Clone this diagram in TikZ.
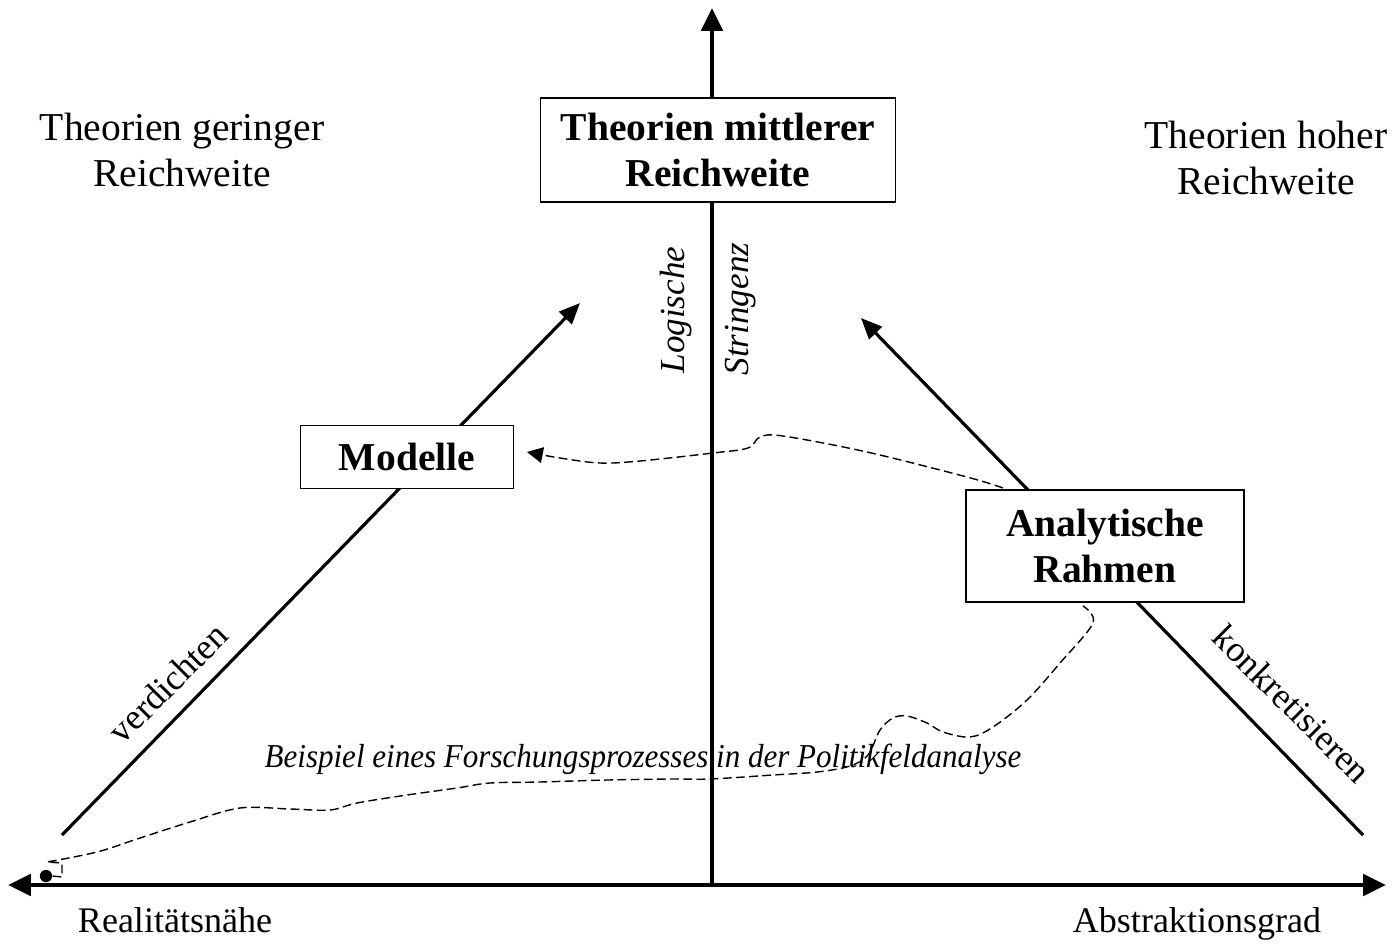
\documentclass[tikz,border=0pt]{standalone}
\usepackage{fontspec}
\setmainfont{Liberation Serif}
\usetikzlibrary{arrows.meta}
\begin{document}
\begin{tikzpicture}[x=0.02cm,y=-0.02cm,>={Triangle[length=13pt,width=12pt]},
    every node/.style={font=\fontsize{22.5}{26}\selectfont},
    txt/.style={align=center,inner sep=0pt},
    klein/.style={font=\fontsize{20.5}{24}\selectfont},
    kasten/.style={draw,line width=0.9pt,fill=white,align=center,inner sep=2pt,
        font=\fontsize{22.5}{26}\selectfont\bfseries},
    achse/.style={line width=2.6pt},
    diag/.style={line width=1.8pt,-{Triangle[length=12pt,width=10pt]}},
    pfad/.style={line width=0.8pt,dash pattern=on 5pt off 2.5pt}]
    \useasboundingbox (0,0) rectangle (1393,947);
    %	\draw[help lines] (0,0) grid[step=100] (1393,947);
    \coordinate (links) at (8,885);
    \coordinate (rechts) at (1386,885);
    \coordinate (null) at (712,885);
    \coordinate (oben) at (712,8);
    \draw[achse,<->] (links) -- (rechts);
    \draw[achse,->] (null) -- (oben);
    \coordinate (v1) at (62,835);
    \coordinate (v2) at (580,303);
    \coordinate (k1) at (1363,835);
    \coordinate (k2) at (861,318);
    \draw[diag] (v1) -- (v2);
    \draw[diag] (k1) -- (k2);
    \node[kasten,minimum width=202pt,minimum height=59pt] (mittel) at (718,150) {Theorien mittlerer\\Reichweite};
    \node[kasten,minimum width=121pt,minimum height=36pt] (modelle) at (407,457) {Modelle};
    \node[kasten,minimum width=158pt,minimum height=64pt] (rahmen) at (1105,546) {Analytische\\Rahmen};
    \node[txt] (gering) at (182,150) {Theorien geringer\\Reichweite};
    \node[txt] (hoch) at (1266,158) {Theorien hoher\\Reichweite};
    \node[klein,anchor=base] (real) at (175,932) {Realitätsnähe};
    \node[klein,anchor=base] (abstr) at (1197,932) {Abstraktionsgrad};
    \node[klein,rotate=45] (verd) at (168,683) {verdichten};
    \node[klein,rotate=-45] (konkr) at (1292,704) {konkretisieren};
    \node[rotate=90,font=\fontsize{20}{24}\selectfont\itshape] (logisch) at (676,310) {Logische};
    \node[rotate=90,font=\fontsize{20}{24}\selectfont\itshape] (streng) at (741,309) {Stringenz};
    \node[anchor=base,xscale=0.93,font=\fontsize{19}{23}\selectfont\itshape] (bsp) at (643,767) {Beispiel eines Forschungsprozesses in der Politikfeldanalyse};
    \node[circle,fill,inner sep=0pt,minimum size=7pt] (start) at (46,876) {};
    \coordinate (ende) at (1083,606);
    \draw[pfad] (start.east) -- (62,877) -- (62,863) -- plot[smooth,tension=0.55] coordinates {(47,862) (97,852) (140,838) (190,822) (240,808) (290,809) (330,810) (357,803) (407,795) (457,788) (490,783) (540,782) (607,780) (673,779) (710,779) (773,775) (817,772) (850,766) (868,755) (880,730) (893,718) (907,716) (927,723) (943,732) (970,737) (993,727) (1027,700) (1060,663) (1093,623) (ende)};
    \coordinate (abzw) at (1003,488);
    \coordinate (ziel) at (527,452);
    \draw[pfad,-{Triangle[length=9pt,width=9pt]}] plot[smooth,tension=0.55] coordinates {(abzw) (967,477) (867,452) (783,436) (760,437) (748,448) (713,453) (640,461) (600,463) (560,458) (ziel)};
\end{tikzpicture}
\end{document}
